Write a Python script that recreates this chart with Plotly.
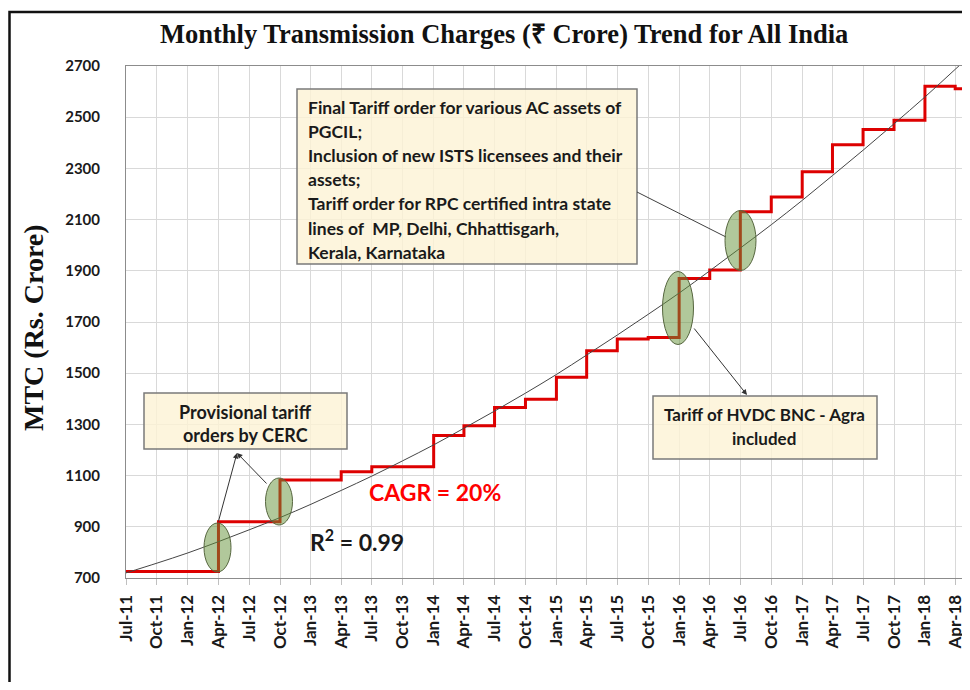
import plotly.graph_objects as go

# ---------------- data ----------------
step_months = ["2011-07-01", "2012-04-01", "2012-10-01", "2013-04-01", "2013-07-01",
               "2014-01-01", "2014-04-01", "2014-07-01", "2014-10-01", "2015-01-01",
               "2015-04-01", "2015-07-01", "2015-10-01", "2016-01-01", "2016-04-01",
               "2016-07-01", "2016-10-01", "2017-01-01", "2017-04-01", "2017-07-01",
               "2017-10-01", "2018-01-01", "2018-04-01", "2018-07-01"]
mtc_values = [725, 920, 1083, 1115, 1135,
              1257, 1295, 1366, 1398, 1484,
              1588, 1634, 1639, 1870, 1903,
              2131, 2188, 2287, 2392, 2452,
              2488, 2621, 2611, 2611]

trend_months = ["2011-07-01", "2011-10-01", "2012-01-01", "2012-04-01", "2012-07-01",
                "2012-10-01", "2013-01-01", "2013-04-01", "2013-07-01", "2013-10-01",
                "2014-01-01", "2014-04-01", "2014-07-01", "2014-10-01", "2015-01-01",
                "2015-04-01", "2015-07-01", "2015-10-01", "2016-01-01", "2016-04-01",
                "2016-07-01", "2016-10-01", "2017-01-01", "2017-04-01", "2017-07-01",
                "2017-10-01", "2018-01-01", "2018-04-01", "2018-07-01"]
trend_values = [720, 758, 798, 842, 888,
                936, 988, 1042, 1098, 1158,
                1220, 1285, 1352, 1422, 1495,
                1571, 1649, 1730, 1813, 1900,
                1989, 2080, 2175, 2272, 2371,
                2474, 2579, 2687, 2797]

tick_dates = trend_months[:-1]
tick_labels = ["Jul-11", "Oct-11", "Jan-12", "Apr-12", "Jul-12", "Oct-12", "Jan-13",
               "Apr-13", "Jul-13", "Oct-13", "Jan-14", "Apr-14", "Jul-14", "Oct-14",
               "Jan-15", "Apr-15", "Jul-15", "Oct-15", "Jan-16", "Apr-16", "Jul-16",
               "Oct-16", "Jan-17", "Apr-17", "Jul-17", "Oct-17", "Jan-18", "Apr-18"]
y_ticks = [700, 900, 1100, 1300, 1500, 1700, 1900, 2100, 2300, 2500, 2700]

box1_lines = ["Final Tariff order for various AC assets of",
              "PGCIL;",
              "Inclusion of new ISTS licensees and their",
              "assets;",
              "Tariff order for RPC certified intra state",
              "lines of &nbsp;MP, Delhi, Chhattisgarh,",
              "Kerala, Karnataka"]
box2_lines = ["Provisional tariff", "orders by CERC"]
box3_lines = ["Tariff of HVDC BNC - Agra", "included"]

# ---------------- layout geometry (page pixels) ----------------
OFF = 8                      # default page margin of the html body
W_FIG, H_FIG = 970 - OFF, 690 - 2 * OFF
L, T, PW, PH = 126, 66, 844, 512   # plot area on the page


def px(x):
    return (x - L) / PW


def py(y):
    return (T + PH - y) / PH


SANS = "Lato"
SERIF = "Liberation Serif"
TXT = "#1a1a1a"

fig = go.Figure()
fig.add_trace(go.Scatter(x=step_months, y=mtc_values, mode="lines",
                         line=dict(shape="hv", color="#dd0000", width=3),
                         hoverinfo="skip"))
fig.add_trace(go.Scatter(x=trend_months, y=trend_values, mode="lines",
                         line=dict(shape="spline", color="#454545", width=1),
                         hoverinfo="skip"))

shapes = []
annotations = []

# outer frame
shapes.append(dict(type="rect", xref="paper", yref="paper",
                   x0=px(OFF + 1.5), x1=px(1100), y0=py(800), y1=py(12),
                   line=dict(color="#111111", width=2.5), fillcolor="rgba(0,0,0,0)"))

# text boxes
for (x0, y0, x1, y1) in [(297, 89, 637, 264), (144, 393, 347, 449), (653, 396, 877, 459)]:
    shapes.append(dict(type="rect", xref="paper", yref="paper",
                       x0=px(x0), x1=px(x1), y0=py(y1), y1=py(y0),
                       line=dict(color="#7a7a7a", width=1.5),
                       fillcolor="rgba(253,243,214,0.82)"))

# connector box1 -> ellipse 4
shapes.append(dict(type="line", xref="paper", yref="paper",
                   x0=px(637), y0=py(192), x1=px(726), y1=py(237),
                   line=dict(color="#404040", width=1)))

# ellipses
for (cx, cy, w, h) in [(217.5, 547.5, 27, 49), (279, 501.5, 27, 47),
                       (678, 308, 31, 73), (740.5, 240.5, 31, 60)]:
    shapes.append(dict(type="circle", xref="paper", yref="paper",
                       x0=px(cx - w / 2), x1=px(cx + w / 2),
                       y0=py(cy + h / 2), y1=py(cy - h / 2),
                       line=dict(color="#56663f", width=1),
                       fillcolor="rgba(100,145,55,0.5)"))

# box texts
for i, t in enumerate(box1_lines):
    annotations.append(dict(xref="paper", yref="paper", x=px(306), y=py(107 + 24.2 * i),
                            xanchor="left", yanchor="middle", text="<b>%s</b>" % t,
                            showarrow=False, font=dict(family=SANS, size=17.5, color=TXT)))
for i, t in enumerate(box2_lines):
    annotations.append(dict(xref="paper", yref="paper", x=px(245.5), y=py(411.5 + 23.5 * i),
                            xanchor="center", yanchor="middle", text="<b>%s</b>" % t,
                            showarrow=False, font=dict(family=SANS, size=18, color=TXT)))
for i, t in enumerate(box3_lines):
    annotations.append(dict(xref="paper", yref="paper", x=px(764), y=py(414 + 24 * i),
                            xanchor="center", yanchor="middle", text="<b>%s</b>" % t,
                            showarrow=False, font=dict(family=SANS, size=17, color=TXT)))

# arrows (head at box, tail at ellipse)
for (hx, hy, tx, ty) in [(237, 453, 218, 523), (237, 453, 268, 485), (747, 395, 693, 327)]:
    annotations.append(dict(xref="paper", yref="paper", x=px(hx), y=py(hy),
                            ax=tx - hx, ay=ty - hy, text="", showarrow=True,
                            arrowhead=2, arrowsize=1.1, arrowwidth=1, arrowcolor="#333333",
                            standoff=0, startstandoff=0))

# CAGR and R2
annotations.append(dict(xref="paper", yref="paper", x=px(434.5), y=py(492),
                        xanchor="center", yanchor="middle", text="<b>CAGR = 20%</b>",
                        showarrow=False, font=dict(family=SANS, size=23, color="#ff0000")))
annotations.append(dict(xref="paper", yref="paper", x=px(356.5), y=py(540),
                        xanchor="center", yanchor="middle", text="<b>R<sup>2</sup> = 0.99</b>",
                        showarrow=False, font=dict(family=SANS, size=23, color=TXT)))

# title and y title
annotations.append(dict(xref="paper", yref="paper", x=px(504), y=py(34),
                        xanchor="center", yanchor="middle",
                        text="<b>Monthly Transmission Charges (₹ Crore) Trend for All India</b>",
                        showarrow=False, font=dict(family=SERIF, size=26.5, color="#111111")))
annotations.append(dict(xref="paper", yref="paper", x=px(33), y=py(328),
                        xanchor="center", yanchor="middle", textangle=-90,
                        text="<b>MTC (Rs. Crore)</b>",
                        showarrow=False, font=dict(family=SERIF, size=28, color="#111111")))

fig.update_layout(
    width=W_FIG, height=H_FIG,
    margin=dict(l=L - OFF, r=W_FIG - (L - OFF) - PW, t=T - OFF,
                b=H_FIG - (T - OFF) - PH, pad=0),
    paper_bgcolor="white", plot_bgcolor="white",
    showlegend=False,
    shapes=shapes, annotations=annotations,
    xaxis=dict(type="date", range=["2011-07-01", "2018-05-15"],
               tickvals=tick_dates, ticktext=tick_labels, tickangle=-90,
               showgrid=True, gridcolor="#d9d9d9", gridwidth=1,
               showline=True, linecolor="#8c8c8c", linewidth=1, mirror=True,
               ticks="outside", ticklen=6, tickcolor="#c0c0c0",
               ticklabelstandoff=3,
               tickfont=dict(family=SANS, size=17, color=TXT, weight="bold"),
               zeroline=False),
    yaxis=dict(range=[700, 2700], tickvals=y_ticks,
               showgrid=True, gridcolor="#d9d9d9", gridwidth=1,
               showline=True, linecolor="#8c8c8c", linewidth=1, mirror=True,
               ticks="", ticklabelstandoff=22,
               tickfont=dict(family=SANS, size=15, color=TXT, weight="bold"),
               zeroline=False),
)

fig.write_html("out.html")
